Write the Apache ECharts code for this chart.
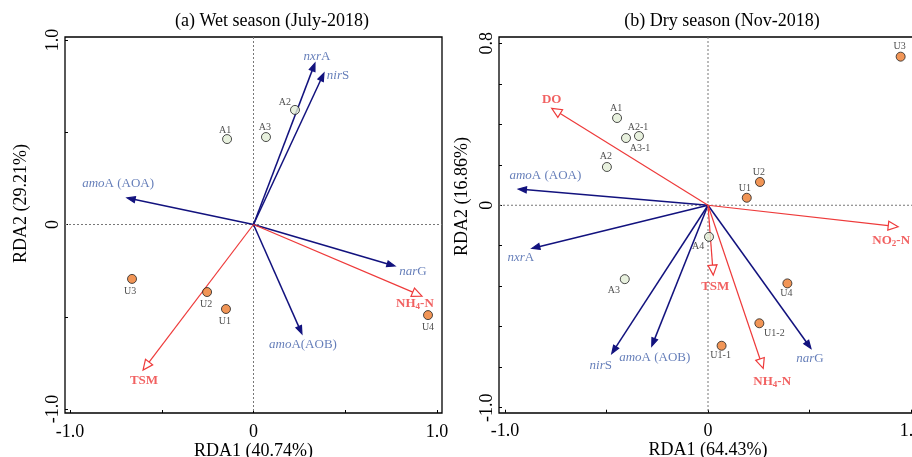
<!DOCTYPE html>
<html><head><meta charset="utf-8">
<script src="https://cdn.jsdelivr.net/npm/echarts@6/dist/echarts.min.js"></script>
<style>html,body{margin:0;padding:0;overflow:hidden;background:#fff}#c{width:945px;height:457px}</style>
</head><body><div id="c"></div>
<script>
// ---------- Panel (a) Wet season ----------
const sitesA = ['A1','A2','A3','U1','U2','U3','U4'];
const rda1A = [-0.144, 0.226, 0.068, -0.150, -0.253, -0.662, 0.951];
const rda2A = [0.463, 0.621, 0.474, -0.458, -0.366, -0.295, -0.491];
const genesA = ['nxrA','nirS','amoA (AOA)','narG','amoA(AOB)'];
const geneX_A = [0.335, 0.384, -0.689, 0.771, 0.264];
const geneY_A = [0.875, 0.821, 0.144, -0.225, -0.593];
const envA = ['NH4-N','TSM'];
const envX_A = [0.918, -0.602];
const envY_A = [-0.388, -0.789];
// ---------- Panel (b) Dry season ----------
const sitesB = ['A1','A2','A3','A4','A2-1','A3-1','U1','U2','U3','U4','U1-1','U1-2'];
const rda1B = [-0.448, -0.498, -0.410, 0.005, -0.404, -0.340, 0.191, 0.256, 0.949, 0.391, 0.067, 0.253];
const rda2B = [0.431, 0.189, -0.365, -0.156, 0.332, 0.342, 0.037, 0.115, 0.734, -0.386, -0.694, -0.583];
const genesB = ['amoA (AOA)','nxrA','nirS','amoA (AOB)','narG'];
const geneX_B = [-0.934, -0.868, -0.474, -0.277, 0.507];
const geneY_B = [0.080, -0.213, -0.732, -0.696, -0.707];
const envB = ['DO','NO2-N','TSM','NH4-N'];
const envX_B = [-0.770, 0.937, 0.026, 0.272];
const envY_B = [0.479, -0.106, -0.345, -0.806];
// titles / axis names
const titleA = '(a) Wet season (July-2018)';
const titleB = '(b) Dry season (Nov-2018)';
const xNameA = 'RDA1 (40.74%)', yNameA = 'RDA2 (29.21%)';
const xNameB = 'RDA1 (64.43%)', yNameB = 'RDA2 (16.86%)';

// ---------- styles / label placement ----------
const FONT = 'Liberation Serif';
const NAVY = '#12127e', BLUE_TXT = '#3e5ea8', RED = '#ee3a3a';
const GREEN_FILL = '#e2eed6', ORANGE = '#ee7b2c';
const ptOffA = {A1:[-2,-9], A2:[-10,-8], A3:[-1,-10], U1:[-1,12], U2:[-1,12], U3:[-2,12], U4:[0,12]};
const ptOffB = {A1:[-1,-10], A2:[-1,-11], A3:[-11,11], A4:[-11,10], 'A2-1':[12,-11], 'A3-1':[1,12],
  U1:[-2,-9], U2:[-1,-10], U3:[-1,-10], U4:[-1,10], 'U1-1':[-1,10], 'U1-2':[15,10]};
const arrOffA = {'nxrA':[2,-6], 'nirS':[14,3], 'amoA (AOA)':[-9,-14], 'narG':[18,6], 'amoA(AOB)':[1,11], 'NH4-N':[-7,8], 'TSM':[1,11]};
const arrOffB = {'DO':[0,-9], 'amoA (AOA)':[27,-13], 'NO2-N':[-7,14], 'nxrA':[-11,9], 'TSM':[2,12], 'narG':[-1,10], 'nirS':[-11,12], 'amoA (AOB)':[3,11], 'NH4-N':[9,13]};

const frameA = {left:65, top:37, right:442, bottom:413};
const frameB = {left:499, top:37, right:944, bottom:413};

function richName(name, kind){
  if (kind === 'gene'){
    const m = name.match(/^([a-z]+)(.*)$/);
    return m ? '{i|' + m[1] + '}{n|' + m[2] + '}' : '{n|' + name + '}';
  }
  const m = name.match(/^([A-Z]+)(\d)(.*)$/);
  return m ? '{b|' + m[1] + '}{s|' + m[2] + '}{b|' + m[3] + '}' : '{b|' + name + '}';
}
const richStyles = {
  i:{fontStyle:'italic', fontSize:13, fontFamily:FONT, color:BLUE_TXT},
  n:{fontSize:13, fontFamily:FONT, color:BLUE_TXT},
  b:{fontWeight:'bold', fontSize:13, fontFamily:FONT, color:RED},
  s:{fontWeight:'bold', fontSize:9, fontFamily:FONT, color:RED, padding:[6,0,0,0]}
};

function zeroLines(frame, xi){
  return {type:'custom', xAxisIndex:xi, yAxisIndex:xi, silent:true, z:1, clip:false,
    data:[[0,0]],
    renderItem:function(params, api){
      const c = api.coord([0,0]);
      const st = {stroke:'#777', lineWidth:1, lineDash:[2,2]};
      return {type:'group', children:[
        {type:'line', shape:{x1:c[0], y1:frame.top, x2:c[0], y2:frame.bottom}, style:st},
        {type:'line', shape:{x1:frame.left, y1:c[1], x2:frame.right, y2:c[1]}, style:st}
      ]};
    }};
}

function arrows(xs, ys, kind, xi){
  const col = kind === 'gene' ? NAVY : RED;
  return {type:'custom', xAxisIndex:xi, yAxisIndex:xi, silent:true, z:3, clip:false,
    data: xs.map((x,i)=>[x, ys[i]]),
    renderItem:function(params, api){
      const o = api.coord([0,0]);
      const p = api.coord([api.value(0), api.value(1)]);
      const dx = p[0]-o[0], dy = p[1]-o[1];
      const L = Math.hypot(dx, dy), ux = dx/L, uy = dy/L, nx = -uy, ny = ux;
      const hl = kind === 'gene' ? 8 : 10, hw = kind === 'gene' ? 3 : 4.5;
      const bx = p[0]-ux*hl, by = p[1]-uy*hl;
      const endx = kind === 'gene' ? p[0]-ux*3 : bx, endy = kind === 'gene' ? p[1]-uy*3 : by;
      return {type:'group', children:[
        {type:'line', shape:{x1:o[0], y1:o[1], x2:endx, y2:endy}, style:{stroke:col, lineWidth: kind==='gene'?1.5:1.2}},
        {type:'polygon', shape:{points:[[p[0],p[1]],[bx+nx*hw,by+ny*hw],[bx-nx*hw,by-ny*hw]]},
          style:{fill: kind==='gene'?col:'#fff', stroke:col, lineWidth:1.2}}
      ]};
    }};
}

function arrowLabels(names, xs, ys, kind, offs, xi){
  return {type:'scatter', xAxisIndex:xi, yAxisIndex:xi, silent:true, z:4, symbolSize:1,
    itemStyle:{color:'transparent'},
    data: names.map((n,i)=>({value:[xs[i], ys[i]], name:n,
      label:{show:true, position:'inside', offset:offs[n], formatter: richName(n, kind), rich:richStyles}}))
  };
}

function points(names, xs, ys, offs, xi){
  return {type:'scatter', xAxisIndex:xi, yAxisIndex:xi, z:5, symbolSize:9,
    data: names.map((n,i)=>({value:[xs[i], ys[i]], name:n,
      itemStyle:{color: n[0]==='A' ? GREEN_FILL : ORANGE, borderColor:'#222', borderWidth:1},
      label:{show:true, position:'inside', offset:offs[n], formatter:n, fontSize:10, fontFamily:FONT, color:'#222'}}))
  };
}

function fmt(map){ return function(v){ for (const k in map){ if (Math.abs(v - Number(k)) < 1e-6) return map[k]; } return ''; }; }
const nameStyle = {fontSize:18, fontFamily:FONT, color:'#000'};
function mainX(name, offset){
  return {type:'value', position:'bottom', min:-1, max:1, interval:0.5, offset:offset,
    axisLine:{show:false, onZero:false}, splitLine:{show:false},
    axisTick:{inside:true, length:3, lineStyle:{color:'#000', width:1}},
    axisLabel:{formatter: fmt({'-1':'-1.0','0':'0','1':'1.0'}), fontSize:18, fontFamily:FONT, color:'#000', margin:10},
    name:name, nameLocation:'middle', nameGap:29, nameMoveOverlap:false, nameTextStyle:nameStyle};
}
function mainY(name, min, max, interval, labels, offset, gap, pad){
  return {type:'value', position:'left', min:min, max:max, interval:interval, offset:offset,
    axisLine:{show:false, onZero:false}, splitLine:{show:false},
    axisTick:{inside:true, length:3, lineStyle:{color:'#000', width:1}},
    axisLabel:{formatter: fmt(labels), fontSize:18, fontFamily:FONT, color:'#000', margin:3, rotate:90},
    name:name, nameLocation:'middle', nameGap:gap, nameMoveOverlap:false, nameTextStyle:Object.assign({padding:[0,0,0,pad]}, nameStyle)};
}
const hidden = {type:'value', show:false, min:0, max:1};

const option = {
  animation:false,
  backgroundColor:'#fff',
  grid:[
    {left:frameA.left, top:frameA.top, width:frameA.right-frameA.left, height:frameA.bottom-frameA.top, show:true, borderColor:'#000', borderWidth:1.3, backgroundColor:'transparent', outerBoundsMode:'none', containLabel:false},
    {left:70, top:40, width:367, height:369, outerBoundsMode:'none', containLabel:false},
    {left:frameB.left, top:frameB.top, width:frameB.right-frameB.left, height:frameB.bottom-frameB.top, show:true, borderColor:'#000', borderWidth:1.3, backgroundColor:'transparent', outerBoundsMode:'none', containLabel:false},
    {left:505, top:43.3, width:406, height:364.4, outerBoundsMode:'none', containLabel:false}
  ],
  xAxis:[
    Object.assign({gridIndex:0}, hidden),
    Object.assign({gridIndex:1}, mainX(xNameA, 4)),
    Object.assign({gridIndex:2}, hidden),
    Object.assign({gridIndex:3}, mainX(xNameB, 5))
  ],
  yAxis:[
    Object.assign({gridIndex:0}, hidden),
    Object.assign({gridIndex:1}, mainY(yNameA, -1, 1, 0.5, {'-1':'-1.0','0':'0','1':'1.0'}, 5, 35, 42)),
    Object.assign({gridIndex:2}, hidden),
    Object.assign({gridIndex:3}, mainY(yNameB, -1, 0.8, 0.2, {'-1':'-1.0','0':'0','0.8':'0.8'}, 6, 28, 58))
  ],
  graphic:[
    {type:'text', x:272, y:21, style:{text:titleA, font:'18px "Liberation Serif"', fill:'#000', align:'center', verticalAlign:'middle', textAlign:'center', textVerticalAlign:'middle'}},
    {type:'text', x:722, y:21, style:{text:titleB, font:'18px "Liberation Serif"', fill:'#000', align:'center', verticalAlign:'middle', textAlign:'center', textVerticalAlign:'middle'}}
  ],
  series:[
    zeroLines(frameA, 1),
    arrows(geneX_A, geneY_A, 'gene', 1),
    arrows(envX_A, envY_A, 'env', 1),
    arrowLabels(genesA, geneX_A, geneY_A, 'gene', arrOffA, 1),
    arrowLabels(envA, envX_A, envY_A, 'env', arrOffA, 1),
    points(sitesA, rda1A, rda2A, ptOffA, 1),
    zeroLines(frameB, 3),
    arrows(geneX_B, geneY_B, 'gene', 3),
    arrows(envX_B, envY_B, 'env', 3),
    arrowLabels(genesB, geneX_B, geneY_B, 'gene', arrOffB, 3),
    arrowLabels(envB, envX_B, envY_B, 'env', arrOffB, 3),
    points(sitesB, rda1B, rda2B, ptOffB, 3)
  ]
};
const chart = echarts.init(document.getElementById('c'), null, {renderer:'canvas'});
chart.setOption(option);
</script>
</body></html>
